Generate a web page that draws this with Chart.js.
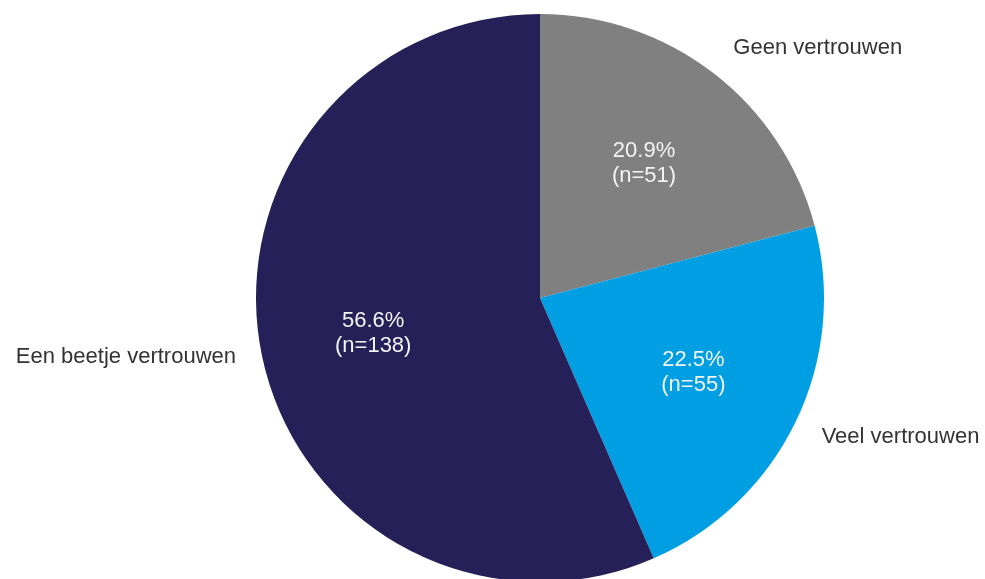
<!DOCTYPE html>
<html>
<head>
<meta charset="utf-8">
<script src="https://cdn.jsdelivr.net/npm/chart.js@4"></script>
<style>
  html, body { margin: 0; padding: 0; background: #fff; overflow: hidden; }
  #wrap { width: 985px; height: 600px; }
</style>
</head>
<body>
<div id="wrap"><canvas id="chart"></canvas></div>
<script>
const categories = ['Geen vertrouwen', 'Veel vertrouwen', 'Een beetje vertrouwen'];
const counts = [51, 55, 138];
const percents = ['20.9%', '22.5%', '56.6%'];
const colors = ['#808080', '#009fe3', '#262059'];

// outer label placement relative to the slice edge: [dx, dy, align]
const outerOffsets = [[20, -25, 'left'], [26, 15, 'left'], [-26, 1, 'right']];

const labelPlugin = {
  id: 'pieLabels',
  afterDatasetsDraw(chart) {
    const ctx = chart.ctx;
    const arcs = chart.getDatasetMeta(0).data;
    ctx.save();
    ctx.font = '22px "Liberation Sans", Arial, sans-serif';
    ctx.textBaseline = 'middle';
    arcs.forEach((arc, i) => {
      const { x, y, startAngle, endAngle, outerRadius } = arc.getProps(['x', 'y', 'startAngle', 'endAngle', 'outerRadius'], true);
      const mid = (startAngle + endAngle) / 2;
      // inner labels
      const ri = outerRadius * 0.6;
      const ix = x + Math.cos(mid) * ri;
      const iy = y + Math.sin(mid) * ri;
      ctx.fillStyle = '#f4f4f4';
      ctx.textAlign = 'center';
      ctx.fillText(percents[i], ix, iy - 12);
      ctx.fillText('(n=' + counts[i] + ')', ix, iy + 13);
      // outer labels
      const ox = x + Math.cos(mid) * outerRadius + outerOffsets[i][0];
      const oy = y + Math.sin(mid) * outerRadius + outerOffsets[i][1];
      ctx.fillStyle = '#333333';
      ctx.textAlign = outerOffsets[i][2];
      ctx.fillText(categories[i], ox, oy);
    });
    ctx.restore();
  }
};

new Chart(document.getElementById('chart'), {
  type: 'pie',
  data: {
    labels: categories,
    datasets: [{
      data: counts,
      backgroundColor: colors,
      borderWidth: 0
    }]
  },
  options: {
    responsive: true,
    maintainAspectRatio: false,
    animation: false,
    layout: { padding: { left: 256, right: 161, top: 14, bottom: 18 } },
    plugins: {
      legend: { display: false },
      tooltip: { enabled: false }
    }
  },
  plugins: [labelPlugin]
});
</script>
</body>
</html>
